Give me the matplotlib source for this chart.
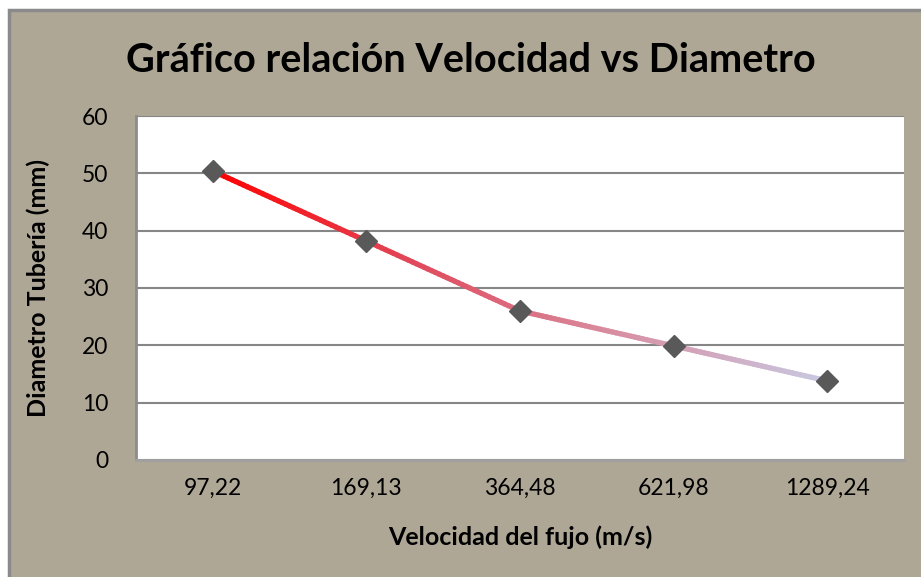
import matplotlib
matplotlib.use("Agg")
import matplotlib.pyplot as plt
import numpy as np
from matplotlib.collections import LineCollection
from matplotlib.colors import LinearSegmentedColormap
from matplotlib.patches import Rectangle

# datos
velocidades = ["97,22", "169,13", "364,48", "621,98", "1289,24"]
diametros = [50.4, 38.2, 26.0, 19.9, 13.8]
y_ticks = [0, 10, 20, 30, 40, 50, 60]

titulo = "Gráfico relación Velocidad vs Diametro"
x_label = "Velocidad del fujo (m/s)"
y_label = "Diametro Tubería (mm)"

fondo = "#AEA796"
plt.rcParams['font.family'] = ['Lato', 'DejaVu Sans']

fig = plt.figure(figsize=(9.21, 5.77), dpi=100)
fig.patch.set_facecolor("white")

# marco exterior del grafico
W, H = 921, 577
marco = Rectangle((9 / W, -0.01), 1 - 9 / W + 0.01, 1 - 10 / H + 0.01,
                  transform=fig.transFigure, facecolor=fondo,
                  edgecolor="#8A8A8A", linewidth=2.5, zorder=-5)
fig.add_artist(marco)

ax = fig.add_axes([136 / W, 117 / H, 768 / W, 344 / H])
ax.set_zorder(2)
ax.set_facecolor("white")

x = np.arange(len(velocidades))
ax.set_xlim(-0.5, len(velocidades) - 0.5)
ax.set_ylim(0, 60)
ax.set_yticks(y_ticks)
ax.set_xticks(x)
ax.set_xticklabels(velocidades)
ax.tick_params(axis="both", length=0, labelsize=16.5, colors="black")
ax.tick_params(axis="y", pad=20)
ax.tick_params(axis="x", pad=13)
ax.grid(axis="y", color="#868686", linewidth=1.5)
ax.set_axisbelow(True)

for lado in ["top", "right"]:
    ax.spines[lado].set_visible(False)
ax.spines["left"].set_color("#8C8C8C")
ax.spines["left"].set_linewidth(2)
ax.spines["bottom"].set_color("#A0A0A0")
ax.spines["bottom"].set_linewidth(2)

# linea con degradado de rojo a lavanda
cmap = LinearSegmentedColormap.from_list("grad", ["#FF0000", "#E04A5C", "#D890A4", "#C8C8E2"])
segs = []
cols = []
n = 40
for i in range(len(x) - 1):
    for t in range(n):
        a, b = t / n, (t + 1) / n
        x0 = x[i] + (x[i + 1] - x[i]) * a
        x1 = x[i] + (x[i + 1] - x[i]) * b
        y0 = diametros[i] + (diametros[i + 1] - diametros[i]) * a
        y1 = diametros[i] + (diametros[i + 1] - diametros[i]) * b
        segs.append([(x0, y0), (x1, y1)])
        cols.append(cmap(((x0 + x1) / 2) / x[-1]))
lc = LineCollection(segs, colors=cols, linewidths=3.8, capstyle="round", zorder=3)
ax.add_collection(lc)
ax.plot(x, diametros, linestyle="none", marker="D", markersize=11,
        color="#595959", zorder=4)

fig.text(471 / W, 1 - 61 / H, titulo, fontsize=28.5, fontweight="bold",
         ha="center", va="center")
ax.set_xlabel(x_label, fontsize=18, fontweight="bold", labelpad=19)
ax.set_ylabel(y_label, fontsize=18, fontweight="bold", labelpad=23)

fig.savefig("out.png", dpi=100, facecolor=fig.get_facecolor())
